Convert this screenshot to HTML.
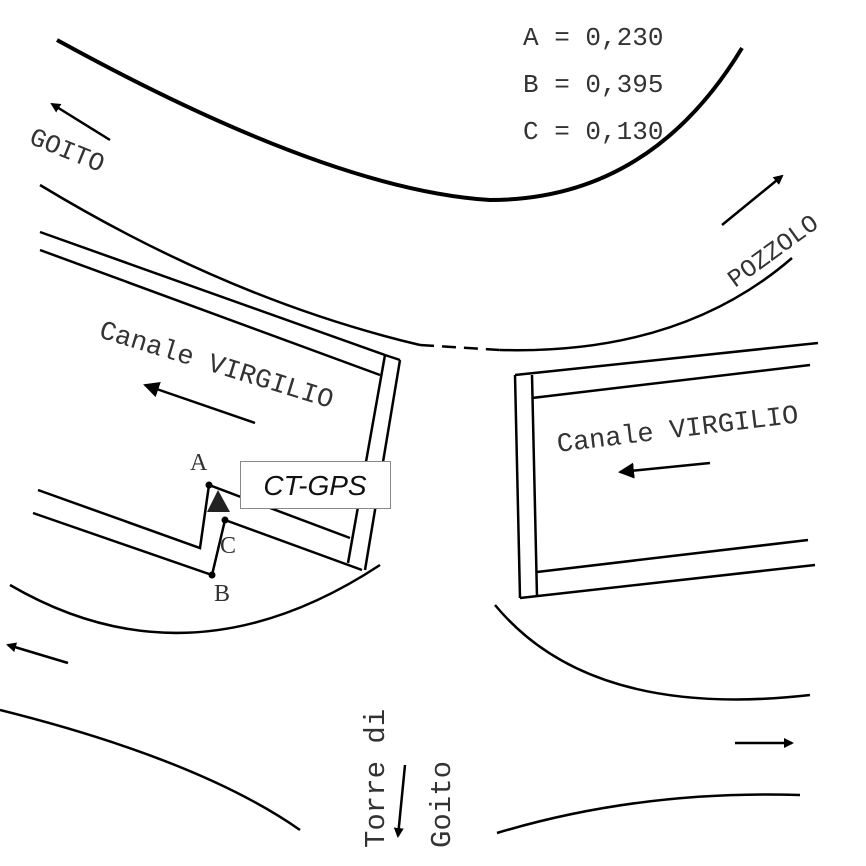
<!DOCTYPE html>
<html><head><style>body{margin:0;background:#fff}svg{display:block}text{font-family:"Liberation Mono",monospace;fill:#333}</style></head><body>
<svg width="866" height="866" viewBox="0 0 866 866" xmlns="http://www.w3.org/2000/svg">
<defs><marker id="ah" markerWidth="10" markerHeight="10" refX="8" refY="5" orient="auto" markerUnits="userSpaceOnUse"><path d="M0,0 L10,5 L0,10 Z" fill="#000"/></marker>
<marker id="ah2" markerWidth="18" markerHeight="16" refX="14" refY="8" orient="auto" markerUnits="userSpaceOnUse"><path d="M0,0 L16,8 L0,16 Z" fill="#000"/></marker></defs>
<g fill="none" stroke="#000" stroke-width="2.5">
<path d="M57,40 Q330,190 490,200 Q650,200 742,48" stroke-width="4"/>
<path d="M40,185 Q230,300 420,345"/>
<path d="M420,345 L500,350" stroke-dasharray="14,8"/>
<path d="M500,350 Q680,355 792,258"/>
<path d="M40,232 L385,355"/><path d="M40,250 L380,375"/>
<path d="M385,355 L348,563"/><path d="M400,360 L365,570"/><path d="M385,355 L400,360"/>
<path d="M38,490 L200,548 L209,485 L350,538"/>
<path d="M33,513 L212,575 L225,520 L362,570"/>
<path d="M515,375 L520,598"/><path d="M532,375 L537,597"/>
<path d="M515,375 L818,343"/><path d="M532,398 L810,365"/>
<path d="M537,572 L808,540"/><path d="M520,598 L815,565"/>
<path d="M10,585 Q190,690 380,565"/>
<path d="M0,710 Q200,760 300,830"/>
<path d="M495,605 Q590,720 810,695"/>
<path d="M497,833 Q640,790 800,795"/>
<path d="M110,140 L52,104" marker-end="url(#ah)"/>
<path d="M722,225 L782,176" marker-end="url(#ah)"/>
<path d="M255,423 L145,385" marker-end="url(#ah2)"/>
<path d="M710,463 L620,472" marker-end="url(#ah2)"/>
<path d="M68,663 L8,645" marker-end="url(#ah)"/>
<path d="M735,743 L792,743" marker-end="url(#ah)"/>
<path d="M405,765 L398,836" marker-end="url(#ah)"/>
</g>
<circle cx="209" cy="485" r="3.5"/><circle cx="212" cy="575" r="3.5"/><circle cx="225" cy="520" r="3.5"/>
<path d="M207,512 L218,490 L230,512 Z" fill="#222"/>
<text x="523" y="45" font-size="26">A = 0,230</text>
<text x="523" y="92" font-size="26">B = 0,395</text>
<text x="523" y="139" font-size="26">C = 0,130</text>
<text x="190" y="470" font-size="24" style="font-family:'Liberation Serif',serif">A</text>
<text x="214" y="601" font-size="24" style="font-family:'Liberation Serif',serif">B</text>
<text x="220" y="553" font-size="24" style="font-family:'Liberation Serif',serif">C</text>
<text font-size="26" transform="translate(28,143) rotate(22)">GOITO</text>
<text font-size="25" transform="translate(735,288) rotate(-36)">POZZOLO</text>
<text font-size="27" transform="translate(98,337) rotate(17)">Canale VIRGILIO</text>
<text font-size="27" transform="translate(558,452) rotate(-7)">Canale VIRGILIO</text>
<text font-size="29" transform="translate(384,848) rotate(-90)">Torre di</text>
<text font-size="29" transform="translate(450,848) rotate(-90)">Goito</text>
<rect x="240.5" y="461.5" width="150" height="47" fill="#fff" stroke="#888" stroke-width="1"/>
<text x="315" y="495" font-size="28" text-anchor="middle" style="font-family:'Liberation Sans',sans-serif;font-style:italic;fill:#111">CT-GPS</text>
</svg>
</body></html>
